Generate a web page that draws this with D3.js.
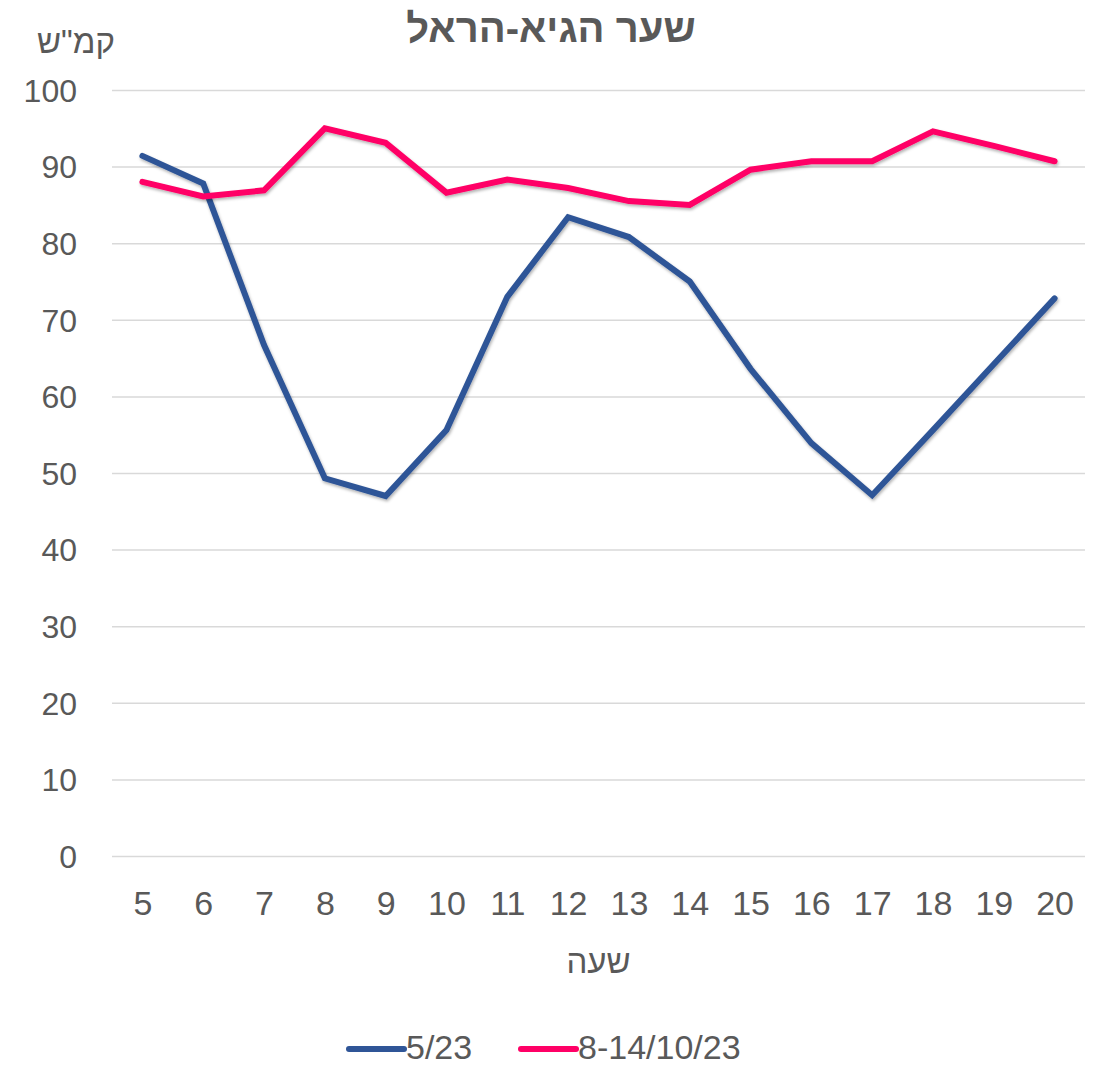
<!DOCTYPE html>
<html>
<head>
<meta charset="utf-8">
<script src="https://cdn.jsdelivr.net/npm/d3@7"></script>
<style>
  body { margin: 0; background: #fff; }
  text { font-family: "Liberation Sans", Arial, sans-serif; fill: #595959; }
</style>
</head>
<body>
<div id="chart"></div>
<script>
// chart data
var hours = [5, 6, 7, 8, 9, 10, 11, 12, 13, 14, 15, 16, 17, 18, 19, 20];
var speedMay = [91.4, 87.8, 66.7, 49.3, 47.0, 55.6, 73.0, 83.4, 80.8, 75.0, 63.6, 53.9, 47.1, 55.6, 64.2, 72.8];
var speedOct = [88.0, 86.1, 86.9, 95.0, 93.1, 86.6, 88.3, 87.2, 85.5, 85.0, 89.6, 90.7, 90.7, 94.6, 92.7, 90.7];
var yTicks = [0, 10, 20, 30, 40, 50, 60, 70, 80, 90, 100];
var seriesNames = ["5/23", "8-14/10/23"];

var svgWidth = 1107;
var svgHeight = 1067;

var margin = { top: 90, right: 22, bottom: 211, left: 112 };
var chartWidth = svgWidth - margin.left - margin.right;
var chartHeight = svgHeight - margin.top - margin.bottom;

var svg = d3.select("#chart")
  .append("svg")
  .attr("width", svgWidth)
  .attr("height", svgHeight);

// soft shadow like the original
var defs = svg.append("defs");
var f = defs.append("filter").attr("id", "shadow")
  .attr("x", "-5%").attr("y", "-5%").attr("width", "110%").attr("height", "120%");
f.append("feDropShadow")
  .attr("dx", 1).attr("dy", 2).attr("stdDeviation", 1.5)
  .attr("flood-color", "#000").attr("flood-opacity", 0.3);

var chartGroup = svg.append("g")
  .attr("transform", `translate(${margin.left}, ${margin.top})`);

var xScale = d3.scalePoint()
  .domain(hours)
  .range([0, chartWidth])
  .padding(0.5);

var yScale = d3.scaleLinear()
  .domain([0, 100])
  .range([chartHeight, 0]);

// gridlines
var yAxis = d3.axisLeft(yScale)
  .tickValues(yTicks)
  .tickSize(-chartWidth)
  .tickPadding(35);

var yG = chartGroup.append("g").call(yAxis);
yG.select(".domain").remove();
yG.selectAll(".tick line").attr("stroke", "#d9d9d9").attr("stroke-width", 1.5);
yG.selectAll(".tick text").attr("font-size", 32).attr("dy", "0.35em");

var xAxis = d3.axisBottom(xScale).tickSize(0);
var xG = chartGroup.append("g")
  .attr("transform", `translate(0, ${chartHeight})`)
  .call(xAxis);
xG.select(".domain").remove();
xG.selectAll(".tick text").attr("font-size", 34).attr("y", 47).attr("dy", "0.35em");

// lines
var line = d3.line()
  .x(function (d, i) { return xScale(hours[i]); })
  .y(function (d) { return yScale(d); });

var colors = ["#2F5597", "#FF0066"];

chartGroup.append("path")
  .datum(speedMay)
  .attr("d", line)
  .attr("fill", "none")
  .attr("stroke", colors[0])
  .attr("stroke-width", 6)
  .attr("stroke-linecap", "round")
  .attr("filter", "url(#shadow)");

chartGroup.append("path")
  .datum(speedOct)
  .attr("d", line)
  .attr("fill", "none")
  .attr("stroke", colors[1])
  .attr("stroke-width", 6)
  .attr("stroke-linecap", "round")
  .attr("filter", "url(#shadow)");

// title and axis labels
svg.append("text")
  .attr("x", 551)
  .attr("y", 42)
  .attr("text-anchor", "middle")
  .attr("font-size", 40)
  .attr("font-weight", "bold")
  .attr("direction", "rtl")
  .text("שער הגיא-הראל");

svg.append("text")
  .attr("x", 76)
  .attr("y", 53)
  .attr("text-anchor", "middle")
  .attr("font-size", 33)
  .attr("direction", "rtl")
  .text("קמ\"ש");

svg.append("text")
  .attr("x", margin.left + chartWidth / 2)
  .attr("y", 973)
  .attr("text-anchor", "middle")
  .attr("font-size", 33)
  .attr("direction", "rtl")
  .text("שעה");

// legend
var legendItems = [
  { x: 349, name: seriesNames[0], color: colors[0] },
  { x: 521, name: seriesNames[1], color: colors[1] }
];
var legend = svg.append("g").attr("transform", "translate(0, 1049)");
legendItems.forEach(function (d) {
  legend.append("line")
    .attr("x1", d.x).attr("x2", d.x + 55)
    .attr("y1", 0).attr("y2", 0)
    .attr("stroke", d.color)
    .attr("stroke-width", 6)
    .attr("stroke-linecap", "round");
  legend.append("text")
    .attr("x", d.x + 57)
    .attr("y", -2)
    .attr("dy", "0.35em")
    .attr("font-size", 34)
    .text(d.name);
});
</script>
</body>
</html>
